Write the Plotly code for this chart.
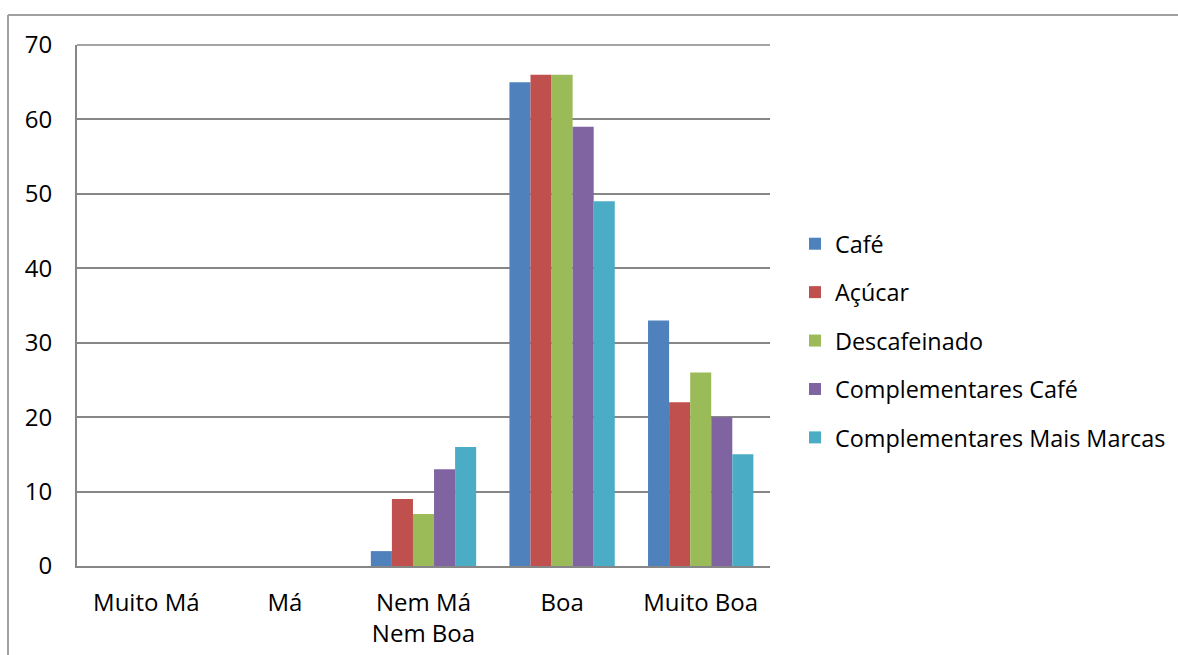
import plotly.graph_objects as go

categories = ["Muito Má", "Má", "Nem Má<br>Nem Boa", "Boa", "Muito Boa"]
series_names = ["Café", "Açúcar", "Descafeinado", "Complementares Café", "Complementares Mais Marcas"]
cafe = [0, 0, 2, 65, 33]
acucar = [0, 0, 9, 66, 22]
descafeinado = [0, 0, 7, 66, 26]
compl_cafe = [0, 0, 13, 59, 20]
compl_mais_marcas = [0, 0, 16, 49, 15]
y_ticks = [0, 10, 20, 30, 40, 50, 60, 70]

colors = ["#4F81BD", "#C0504D", "#9BBB59", "#8064A2", "#4BACC6"]
values = [cafe, acucar, descafeinado, compl_cafe, compl_mais_marcas]

W, H = 1178, 655
L, R, T, B = 77, 770, 45, 566

fig = go.Figure()
for name, vals, col in zip(series_names, values, colors):
    fig.add_trace(go.Bar(
        name=name, x=categories, y=vals, legendgroup=name,
        marker=dict(color=col, line=dict(width=0)),
    ))

pw, ph = R - L, B - T
def px(x):
    return (x - L) / pw
def py(y):
    return (B - y) / ph

# outer chart frame (top and left edges)
frame = dict(color="#A0A0A0", width=2)
fig.add_shape(type="line", xref="paper", yref="paper",
              x0=px(8), x1=px(W + 5), y0=py(15), y1=py(15), line=frame)
fig.add_shape(type="line", xref="paper", yref="paper",
              x0=px(8), x1=px(8), y0=py(15), y1=py(H + 5), line=frame)

font = "Open Sans, sans-serif"
fig.update_layout(
    width=W, height=H,
    margin=dict(l=L, r=W - R, t=T, b=H - B, autoexpand=False),
    paper_bgcolor="white", plot_bgcolor="white",
    barmode="group", bargap=0.24, bargroupgap=0,
    font=dict(family=font, size=24, color="#000000"),
    showlegend=True,
    legend=dict(xref="container", yref="container",
                x=795 / W, y=1 - 222 / H, xanchor="left", yanchor="top",
                font=dict(size=23.4), tracegroupgap=15,
                itemwidth=30, bgcolor="rgba(0,0,0,0)"),
    xaxis=dict(showline=True, linecolor="#868686", linewidth=2, automargin=False,
               ticks="", tickfont=dict(size=24), ticklabelstandoff=14),
    yaxis=dict(range=[0, 70], tickvals=y_ticks, showgrid=True, automargin=False,
               gridcolor="#868686", gridwidth=1.5, zeroline=False,
               showline=True, linecolor="#868686", linewidth=2,
               ticks="", ticklabelstandoff=18,
               tickfont=dict(size=24)),
)
fig.add_shape(type="line", xref="paper", yref="paper",
              x0=0, x1=1, y0=1, y1=1, line=dict(color="#868686", width=1.5))

fig.write_html("out.html")
